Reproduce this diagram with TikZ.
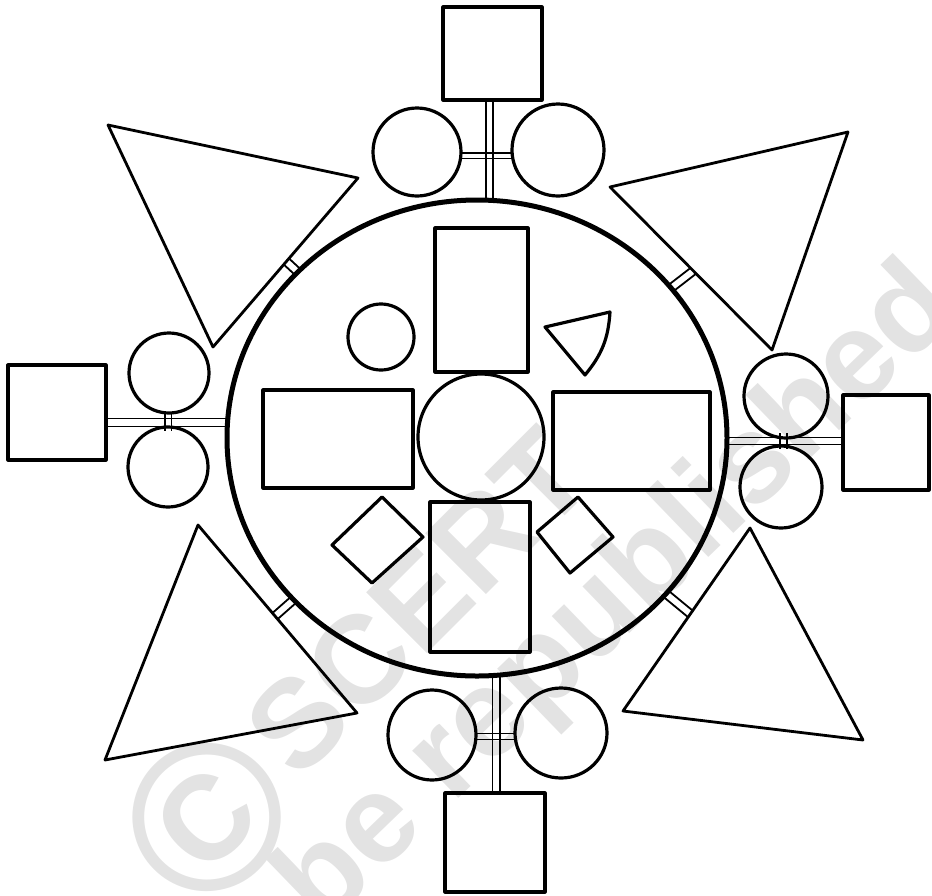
\documentclass[tikz,border=0pt]{standalone}
\usepackage{fontspec}
\newfontfamily\wmfont{Liberation Sans}
\begin{document}
\begin{tikzpicture}[x=1pt,y=-1pt,
  ln/.style={draw=black, line width=3.2pt, line join=round, line cap=round},
  tri/.style={draw=black, line width=2.8pt, line join=round},
  bigring/.style={draw=black, line width=5pt},
  thinln/.style={draw=black, line width=1.8pt},
  wm/.style={text=gray!22, inner sep=0pt, font=\wmfont\bfseries\fontsize{125}{130}\selectfont},
  wmc/.style={text=gray!22, inner sep=0pt, font=\wmfont\bfseries\fontsize{210}{220}\selectfont}]
\useasboundingbox (0,0) rectangle (932,895);
% watermark
\node[wmc, rotate=45] (copy) at (207,818) {©};
\node[wm, rotate=45] (scert) at (418,602) {SCERT};
\node[wm, rotate=44] (repub) at (620,598) {be republished};
% big ring
\draw[bigring] (477,438) ellipse [x radius=250, y radius=238];
% ticks joining triangles to the ring
\foreach \ang/\gap in {222.8/16, 322.3/28, 138.6/25, 39.5/32}{
  \begin{scope}[shift={(477,438)}, rotate=-\ang]
    \draw[thinln] (244.5,-4) -- ++(\gap,0) (244.5,4) -- ++(\gap,0);
  \end{scope}}
% big triangles
\draw[tri] (108,125) -- (358,178) -- (213,347) -- cycle;
\draw[tri] (610,187) -- (848,132) -- (772,350) -- cycle;
\draw[tri] (198,525) -- (357,713) -- (105,760) -- cycle;
\draw[tri] (750,528) -- (863,740) -- (623,711) -- cycle;
% top assembly
\draw[ln] (443,7) rectangle (542,100);
\draw[ln] (417,152) circle [radius=44];
\draw[ln] (558,150) circle [radius=46];
\draw[thinln] (486,100) -- (486,200) (493,100) -- (493,200);
\draw[thinln] (461,153) -- (512,153) (461,158.5) -- (512,158.5);
% bottom assembly
\draw[ln] (445,793) rectangle (545,892);
\draw[ln] (432,735) ellipse [x radius=44, y radius=45];
\draw[ln] (561,733) ellipse [x radius=46, y radius=45];
\draw[thinln] (492.5,676) -- (492.5,793) (500,676) -- (500,793);
\draw[thinln] (476,733.5) -- (515,733.5) (476,739.5) -- (515,739.5);
% left assembly
\draw[ln] (8,365) rectangle (106,460);
\draw[ln] (169,373) circle [radius=40];
\draw[ln] (168,467) circle [radius=40];
\draw[thinln] (106,418.5) -- (227,418.5) (106,426.5) -- (227,426.5);
\draw[thinln] (165,413) -- (165,431) (171.5,413) -- (171.5,431);
% right assembly
\draw[ln] (843,395) rectangle (929,490);
\draw[ln] (786,396) circle [radius=42];
\draw[ln] (781,487) circle [radius=41];
\draw[thinln] (727,437.5) -- (843,437.5) (727,444.5) -- (843,444.5);
\draw[thinln] (780,433) -- (780,449) (787,433) -- (787,449);
% inner shapes
\draw[ln] (435,228) rectangle (528,372);
\draw[ln] (381,337) circle [radius=33];
\draw[ln] (545,327) -- (610,312) to[bend left=18] (585,375) -- cycle;
\draw[ln] (263,390) rectangle (413,488);
\draw[ln] (481,437) circle [radius=63];
\draw[ln] (553,392) rectangle (710,490);
\draw[ln] (430,502) rectangle (530,652);
\draw[ln] (382,497) -- (423,537) -- (372,583) -- (332,545) -- cycle;
\draw[ln] (578,497) -- (613,537) -- (570,573) -- (537,532) -- cycle;
\end{tikzpicture}
\end{document}
